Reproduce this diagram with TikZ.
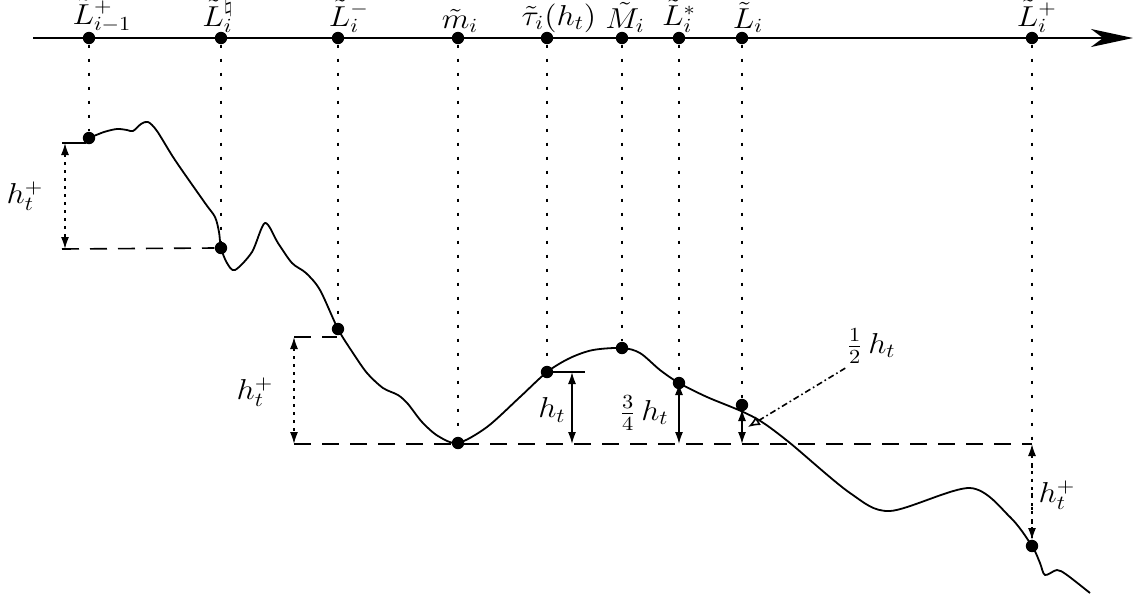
\documentclass[tikz,border=0pt]{standalone}
\usepackage{graphicx}
\usetikzlibrary{arrows.meta}
\newcommand{\stretchtxt}[1]{\scalebox{1.12}[1]{#1}}
\begin{document}
\begin{tikzpicture}[x=0.5pt,y=-0.5pt,
  every node/.style={font=\Large},
  dot/.style={circle,fill=black,draw=none,inner sep=0pt,minimum size=6.2pt},
  lab/.style={anchor=south,inner sep=0pt},
  curveline/.style={line width=0.9pt,line join=round},
  guide/.style={line width=0.9pt,dash pattern=on 1.6pt off 5.4pt},
  level/.style={line width=0.8pt,dash pattern=on 8.5pt off 5.5pt},
  tick/.style={line width=0.8pt},
  dotarrow/.style={line width=0.8pt,dash pattern=on 1.5pt off 2.5pt,
     {Latex[length=6pt,width=4pt]}-{Latex[length=6pt,width=4pt]}},
  solarrow/.style={line width=0.8pt,
     {Latex[length=6pt,width=4pt]}-{Latex[length=6pt,width=4pt]}},
  pointer/.style={line width=0.8pt,dash pattern=on 3pt off 1.5pt on 0.8pt off 1.5pt,
     -{Latex[open,length=6pt,width=5pt]}}
]
\useasboundingbox (0,0) rectangle (1137,601);

% axis
\coordinate (axs) at (33,38);
\coordinate (axe) at (1133,38);
\draw[line width=0.9pt,-{Stealth[length=21pt,width=9pt,inset=6pt]}] (axs) -- (axe);

% axis dots
\node[dot] (a1) at (89,38) {};
\node[dot] (a2) at (221,38) {};
\node[dot] (a3) at (338,38) {};
\node[dot] (a4) at (458,38) {};
\node[dot] (a5) at (547,38) {};
\node[dot] (a6) at (622,38) {};
\node[dot] (a7) at (679,38) {};
\node[dot] (a8) at (742,38) {};
\node[dot] (a9) at (1032,38) {};

% axis labels
\node[lab] (l1) at (102,33) {\stretchtxt{$\tilde L^+_{i-1}$}};
\node[lab] (l2) at (218,33) {\stretchtxt{$\tilde L^\natural_i$}};
\node[lab] (l3) at (349,33) {\stretchtxt{$\tilde L^-_i$}};
\node[lab] (l4) at (460,33) {\stretchtxt{$\tilde m_i$}};
\node[lab] (l5) at (559,33) {\stretchtxt{$\tilde\tau_i(h_t)$}};
\node[lab] (l6) at (625,33) {\stretchtxt{$\tilde M_i$}};
\node[lab] (l7) at (679,33) {\stretchtxt{$\tilde L^*_i$}};
\node[lab] (l8) at (748,33) {\stretchtxt{$\tilde L_i$}};
\node[lab] (l9) at (1037,33) {\stretchtxt{$\tilde L^+_i$}};

% the path
\draw[curveline] plot[smooth,tension=0.5] coordinates {
 (89,138) (104,132) (117,129) (127,130) (133,131) (141,124) (148,122) (157,131)
 (175,160) (205,203) (215,217) (219,232) (221,248) (227,263) (235,270) (252,252)
 (265,223) (278,243) (292,263) (306,273) (320,290) (338,329) (353,353) (367,373)
 (383,388) (398,395) (408,404) (422,422) (438,436) (458,443) (487,427) (520,397)
 (547,372) (570,358) (593,350) (622,348) (640,353) (660,370) (679,383) (707,397)
 (741,411) (762,422) (790,443) (850,493) (890,511) (970,488)
 (1010,517) (1032,546) (1040,563) (1045,575) (1057,570) (1067,575) (1090,593)};

% curve dots
\node[dot] (c1) at (89,138) {};
\node[dot] (c2) at (221,248) {};
\node[dot] (c3) at (338,329) {};
\node[dot] (c4) at (458,443) {};
\node[dot] (c5) at (547,372) {};
\node[dot] (c6) at (622,348) {};
\node[dot] (c7) at (679,383) {};
\node[dot] (c8) at (742,405) {};
\node[dot] (c9) at (1032,546) {};

% vertical guides
\foreach \i in {1,...,9} \draw[guide] (a\i) -- (c\i);

% level lines
\coordinate (t1l) at (62,143);
\coordinate (t1r) at (86,143);
\draw[tick] (t1l) -- (t1r);
\coordinate (b1l) at (62,249);
\draw[level] (b1l) -- (c2.west);
\coordinate (t2l) at (294,337);
\coordinate (t2r) at (337,337);
\draw[level] (t2l) -- (t2r);
\coordinate (b2l) at (294,444);
\coordinate (b2r) at (1032,444);
\draw[level] (b2l) -- (b2r);
\coordinate (taur) at (585,372);
\draw[tick] (c5.center) -- (taur);

% h_t^+ arrows
\coordinate (ar1t) at (65,143);
\coordinate (ar1b) at (65,249);
\draw[dotarrow] (ar1t) -- (ar1b);
\node (h1) at (25,196) {\stretchtxt{$h_t^+$}};
\coordinate (ar2t) at (294,337);
\coordinate (ar2b) at (294,444);
\draw[dotarrow] (ar2t) -- (ar2b);
\node (h2) at (255,392) {\stretchtxt{$h_t^+$}};
\coordinate (ar3b) at (1032,540);
\draw[dotarrow] (b2r) -- (ar3b);
\node (h3) at (1057,495) {\stretchtxt{$h_t^+$}};

% h_t arrows
\coordinate (hta) at (572,372);
\coordinate (htb) at (572,444);
\draw[solarrow] (hta) -- (htb);
\node (hl) at (552,410) {\stretchtxt{$h_t$}};
\coordinate (tqa) at (679,383);
\coordinate (tqb) at (679,444);
\draw[solarrow] (tqa) -- (tqb);
\node (tql) at (644,413) {\stretchtxt{$\frac{3}{4}\,h_t$}};
\coordinate (hfa) at (742,409);
\coordinate (hfb) at (742,444);
\draw[solarrow] (hfa) -- (hfb);

% 1/2 pointer
\node (hfl) at (871,346) {\stretchtxt{$\frac{1}{2}\,h_t$}};
\coordinate (hftip) at (748,427);
\draw[pointer] (hfl.south west) ++(6,-2) -- (hftip);
\end{tikzpicture}
\end{document}
